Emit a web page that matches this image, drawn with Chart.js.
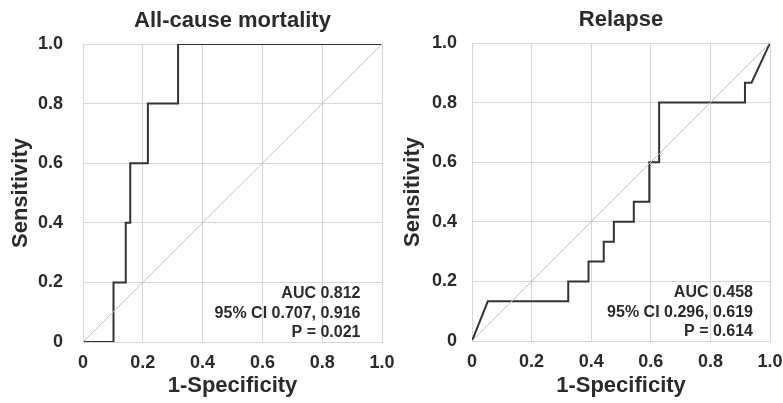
<!DOCTYPE html>
<html>
<head>
<meta charset="utf-8">
<script src="https://cdn.jsdelivr.net/npm/chart.js@4"></script>
<style>
    body { margin: 0; background: #fff; overflow: hidden; width: 783px; height: 403px; position: relative; }
    .box { position: absolute; top: 0; }
</style>
</head>
<body>
<div class="box" style="left:0"><canvas id="mortalityChart" width="410" height="403"></canvas></div>
<div class="box" style="left:390px"><canvas id="relapseChart" width="410" height="403"></canvas></div>
<script>
// ROC points (1-specificity, sensitivity)
var mortalityFpr  = [0, 0.102, 0.102, 0.143, 0.143, 0.158, 0.158, 0.217, 0.217, 0.318, 0.318, 1];
var mortalitySens = [0, 0,     0.2,   0.2,   0.4,   0.4,   0.6,   0.6,   0.8,   0.8,   1.0,   1.0];
var mortalityStats = ['AUC 0.812', '95% CI 0.707, 0.916', 'P = 0.021'];

var relapseFpr  = [0, 0.053, 0.323, 0.323, 0.391, 0.391, 0.442, 0.442, 0.476, 0.476, 0.543, 0.543, 0.595, 0.595, 0.628, 0.628, 0.916, 0.916, 0.938, 1];
var relapseSens = [0, 0.133, 0.133, 0.2,   0.2,   0.267, 0.267, 0.333, 0.333, 0.4,   0.4,   0.467, 0.467, 0.6,   0.6,   0.8,   0.8,   0.867, 0.867, 1.0];
var relapseStats = ['AUC 0.458', '95% CI 0.296, 0.619', 'P = 0.614'];

var diagonal = [0, 1];
var tickValues = [0, 0.2, 0.4, 0.6, 0.8, 1.0];
var tickLabels = ['0', '0.2', '0.4', '0.6', '0.8', '1.0'];

var FONT = "'Liberation Sans', Arial, sans-serif";
var TEXT = '#2b2b2b';
var GRID = '#d6d6d6';

function points(xs, ys) {
    return xs.map(function (x, i) { return {x: x, y: ys[i]}; });
}

var statsPlugin = {
    id: 'stats',
    afterDraw: function (chart) {
        var o = chart.options.plugins.stats;
        var ctx = chart.ctx, area = chart.chartArea;
        ctx.save();
        ctx.font = 'bold 16px ' + FONT;
        ctx.fillStyle = TEXT;
        ctx.textAlign = 'right';
        ctx.textBaseline = 'alphabetic';
        o.lines.forEach(function (t, i) {
            ctx.fillText(t, area.right - o.right, area.bottom - 43.7 + i * 19.3);
        });
        ctx.restore();
    }
};

function makeChart(id, title, xs, ys, stats, lay) {
    var ctx = document.getElementById(id).getContext('2d');
    return new Chart(ctx, {
        type: 'scatter',
        data: {
            datasets: [{
                data: points(diagonal, diagonal),
                showLine: true,
                borderColor: '#c2c2c2',
                borderWidth: 1,
                pointRadius: 0,
            }, {
                data: points(xs, ys),
                showLine: true,
                borderColor: '#333333',
                borderWidth: 2,
                pointRadius: 0,
                tension: 0,
            }]
        },
        options: {
            responsive: false,
            animation: false,
            events: [],
            layout: { padding: { left: 0, right: lay.padRight, top: 0, bottom: 0 } },
            plugins: {
                legend: { display: false },
                tooltip: { enabled: false },
                title: {
                    display: true,
                    text: title,
                    fullSize: false,
                    color: TEXT,
                    font: { family: FONT, size: 22, weight: 'bold' },
                    padding: { top: lay.titleTop, bottom: lay.titleBottom },
                },
                stats: { lines: stats, right: lay.statsRight },
            },
            scales: {
                x: {
                    type: 'linear',
                    min: 0, max: 1,
                    afterBuildTicks: function (s) { s.ticks = tickValues.map(function (v) { return {value: v}; }); },
                    afterFit: function (s) { s.height = lay.xHeight; },
                    grid: { color: GRID, drawTicks: false },
                    border: { color: GRID },
                    ticks: {
                        padding: 10,
                        color: TEXT,
                        maxRotation: 0,
                        font: { family: FONT, size: 18, weight: 'bold' },
                        callback: function (v, i) { return tickLabels[i]; },
                    },
                    title: {
                        display: true,
                        text: '1-Specificity',
                        color: TEXT,
                        font: { family: FONT, size: 22, weight: 'bold' },
                        padding: { top: 0, bottom: 3.6 },
                    },
                },
                y: {
                    type: 'linear',
                    min: 0, max: 1,
                    afterBuildTicks: function (s) { s.ticks = tickValues.map(function (v) { return {value: v}; }); },
                    afterFit: function (s) { s.width = lay.yWidth; },
                    grid: { color: GRID, drawTicks: false },
                    border: { color: GRID },
                    ticks: {
                        padding: lay.yTickPad,
                        color: TEXT,
                        font: { family: FONT, size: 18, weight: 'bold' },
                        callback: function (v, i) { return tickLabels[i]; },
                    },
                    title: {
                        display: true,
                        text: 'Sensitivity',
                        color: TEXT,
                        font: { family: FONT, size: 22, weight: 'bold' },
                        padding: { top: lay.yTitlePad, bottom: 0 },
                    },
                },
            },
        },
        plugins: [statsPlugin],
    });
}

makeChart('mortalityChart', 'All-cause mortality', mortalityFpr, mortalitySens, mortalityStats,
    { padRight: 28, titleTop: 8, titleBottom: 9.6, xHeight: 61, yWidth: 83, yTickPad: 20, yTitlePad: 7.3, statsRight: 21.5 });
makeChart('relapseChart', 'Relapse', relapseFpr, relapseSens, relapseStats,
    { padRight: 30, titleTop: 7, titleBottom: 9.6, xHeight: 62, yWidth: 82, yTickPad: 15, yTitlePad: 10, statsRight: 17 });
</script>
</body>
</html>
